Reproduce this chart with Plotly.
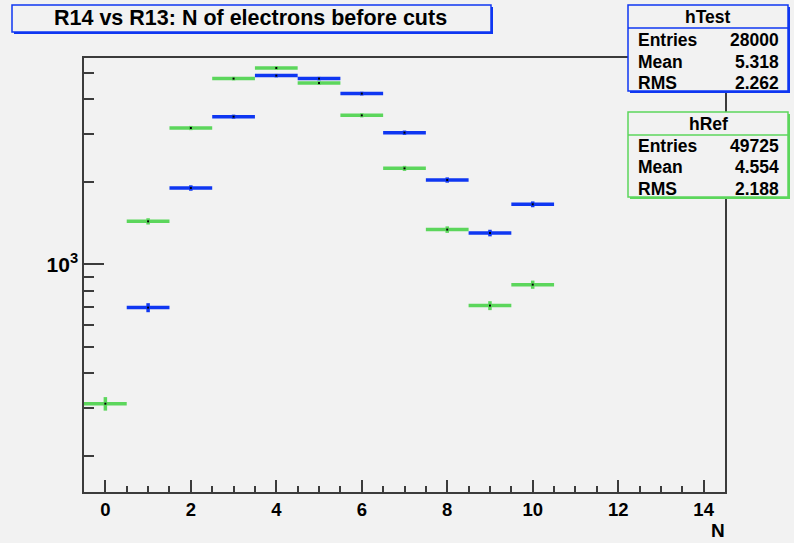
import plotly.graph_objects as go
import numpy as np

# ---------------- data ----------------
bins_ref = [0, 1, 2, 3, 4, 5, 6, 7, 8, 9, 10]
ref_counts = [310, 1435, 3144, 4762, 5205, 4588, 3497, 2240, 1339, 707, 843]
bins_test = [1, 2, 3, 4, 5, 6, 7, 8, 9, 10]
test_counts = [695, 1899, 3459, 4883, 4762, 4198, 3023, 2031, 1301, 1656]

title_text = "R14 vs R13: N of electrons before cuts"
x_title = "N"
stats_test = {"name": "hTest", "Entries": "28000", "Mean": "5.318", "RMS": "2.262"}
stats_ref = {"name": "hRef", "Entries": "49725", "Mean": "4.554", "RMS": "2.188"}

BLUE = "#0f37f2"
GREEN = "#5cd65c"
BG = "#f2f2f2"
AX = "#3c3c3c"
FONT = "Liberation Sans"

W, H = 794, 543
L, R, T, B = 84, 725, 58, 492


def px(x):
    return (x - L) / (R - L)


def py(y):
    return (B - y) / (B - T)


fig = go.Figure()


def add_hist(xs, ys, color):
    ys = np.array(ys, dtype=float)
    fig.add_trace(go.Scatter(
        x=xs, y=ys, mode="markers",
        marker=dict(color="black", size=2, symbol="square"),
        error_x=dict(type="data", array=[0.5] * len(xs), symmetric=True,
                     color=color, thickness=3.5, width=0),
        error_y=dict(type="data", array=np.sqrt(ys), symmetric=True,
                     color=color, thickness=3.5, width=0),
        showlegend=False, hoverinfo="x+y",
    ))


add_hist(bins_ref, ref_counts, GREEN)
add_hist(bins_test, test_counts, BLUE)

shapes = []
annotations = []


def box(x0, y0, x1, y1, color, shadow=2):
    # shadow
    shapes.append(dict(type="rect", xref="paper", yref="paper",
                       x0=px(x0 + shadow), x1=px(x1 + shadow),
                       y0=py(y1 + shadow), y1=py(y0 + shadow),
                       line=dict(width=0), fillcolor=color, layer="above"))
    shapes.append(dict(type="rect", xref="paper", yref="paper",
                       x0=px(x0), x1=px(x1), y0=py(y1), y1=py(y0),
                       line=dict(color=color, width=1.5), fillcolor=BG, layer="above"))


def text(x, y, s, size, xanchor="center"):
    annotations.append(dict(xref="paper", yref="paper", x=px(x), y=py(y),
                            text=s, showarrow=False, xanchor=xanchor, yanchor="middle",
                            font=dict(family=FONT, size=size, color="black", weight="bold")))


# title box
box(12, 5, 491, 32, BLUE)
text(250, 18.5, title_text, 21.5)


def stat_box(top, bottom, sep, rows_y, title_y, st, color):
    box(628, top, 788, bottom, color)
    shapes.append(dict(type="line", xref="paper", yref="paper",
                       x0=px(628), x1=px(788), y0=py(sep), y1=py(sep),
                       line=dict(color=color, width=1.5), layer="above"))
    text(708, title_y, st["name"], 17.5)
    for key, yy in zip(["Entries", "Mean", "RMS"], rows_y):
        text(636, yy, key, 17.5, "left")
        text(781, yy, st[key], 17.5, "right")


stat_box(5, 91, 28, [39.5, 61.5, 83], 17, stats_test, BLUE)
stat_box(112, 197, 135, [145.5, 167, 189], 124.5, stats_ref, GREEN)

# N axis title
text(718, 530, x_title, 19)

fig.update_layout(
    width=W, height=H,
    margin=dict(l=L, r=W - R, t=T, b=H - B, pad=0),
    paper_bgcolor=BG, plot_bgcolor=BG,
    shapes=shapes, annotations=annotations,
    font=dict(family=FONT, color="black"),
)

fig.update_xaxes(
    range=[-0.5, 14.5], showgrid=False, zeroline=False,
    showline=True, linecolor=AX, linewidth=1.5, mirror=True,
    tickmode="linear", tick0=0, dtick=2,
    ticks="inside", ticklen=12, tickwidth=1.5, tickcolor=AX,
    tickfont=dict(family=FONT, size=18.5, color="black", weight="bold"),
    minor=dict(tickmode="linear", tick0=0, dtick=0.5, ticks="inside",
               ticklen=6, tickwidth=1.5, tickcolor=AX, showgrid=False),
)

fig.update_yaxes(
    type="log", range=[2.169, 3.753], showgrid=False, zeroline=False,
    showline=True, linecolor=AX, linewidth=1.5, mirror=True,
    tickmode="array", tickvals=[1000], ticktext=["10<sup>3</sup>"],
    ticks="inside", ticklen=20, tickwidth=1.5, tickcolor=AX,
    tickfont=dict(family=FONT, size=21, color="black", weight="bold"),
    minor=dict(tickmode="array",
               tickvals=[200, 300, 400, 500, 600, 700, 800, 900,
                         2000, 3000, 4000, 5000],
               ticks="inside", ticklen=10, tickwidth=1.5, tickcolor=AX,
               showgrid=False),
)

fig.write_html("out.html")
